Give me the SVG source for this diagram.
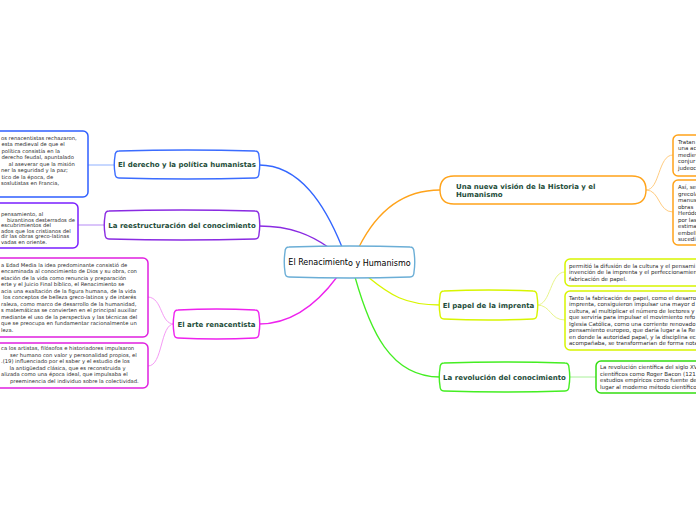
<svg xmlns="http://www.w3.org/2000/svg" width="696" height="520" viewBox="0 0 696 520">
<style>
.bg{fill:#ffffff}
.node{fill:#ffffff;stroke-width:1.4}
.lbl{font-family:"DejaVu Sans",Verdana,sans-serif;font-weight:bold;font-size:7px;fill:#1e4d3a}
.txt{font-family:"DejaVu Sans",Verdana,sans-serif;font-size:5.5px;fill:#2a2a2a}
.txl{font-family:"DejaVu Sans",Verdana,sans-serif;font-size:5.25px;fill:#2a2a2a}
.box{fill:#ffffff;stroke-width:1.5}
.con{fill:none;stroke-width:1.3}
.sub{fill:none;stroke-width:1}
</style>
<rect class="bg" x="0" y="0" width="696" height="520"/>
<g id="connectors">
  <path class="con" stroke="#3366ff" d="M259,165 C300,165 325,205 342,247"/>
  <path class="con" stroke="#8a2be2" d="M259,226 C292,226 312,236 328,247"/>
  <path class="con" stroke="#ee22ee" d="M259,324 C295,324 320,300 337,277"/>
  <path class="con" stroke="#ffa31a" d="M440,190 C400,190 375,215 359,247"/>
  <path class="con" stroke="#d8f500" d="M440,305 C405,305 390,295 368,277"/>
  <path class="con" stroke="#44ee22" d="M440,377 C390,377 370,330 355,277"/>
  <path class="sub" stroke="#8fb0ff" d="M88,165 L115,165"/>
  <path class="sub" stroke="#b58af5" d="M78,225 L105,225"/>
  <path class="sub" stroke="#f59af5" d="M174,324 C160,324 163,298 148,297"/>
  <path class="sub" stroke="#f59af5" d="M174,324 C160,324 163,366 148,366"/>
  <path class="sub" stroke="#ffcc80" d="M646,190 C660,190 658,155 673,155"/>
  <path class="sub" stroke="#ffcc80" d="M646,190 C660,190 658,212 673,212"/>
  <path class="sub" stroke="#e8f58a" d="M537,305 C551,305 550,272 565,272"/>
  <path class="sub" stroke="#e8f58a" d="M537,305 C551,305 550,320 565,320"/>
  <path class="sub" stroke="#a8f098" d="M569,377 L596,377"/>
</g>
<g id="central">
  <path class="node" stroke="#6baed6" d="M289,247 Q349.5,245 410,247 Q414,247 414,252 Q415.5,262 414,272 Q414,277 410,277 Q349.5,279 289,277 Q285,277 285,272 Q283.5,262 285,252 Q285,247 289,247 Z"/>
  <text x="349.5" y="265" text-anchor="middle" style="font-family:'DejaVu Sans',sans-serif;font-size:8px;fill:#000">El Renacimient<tspan dy="1">o y Humanismo</tspan></text>
</g>
<g id="derecho">
  <path class="node" stroke="#3b6cff" d="M119,151 Q187,149 255,151 Q259,151 259,156 Q260.5,164.5 259,173 Q259,178 255,178 Q187,180 119,178 Q115,178 115,173 Q113.5,164.5 115,156 Q115,151 119,151 Z"/>
  <text class="lbl" x="187" y="167" text-anchor="middle">El derecho y la política humanistas</text>
</g>
<g id="derecho-texto">
  <rect class="box" stroke="#2f5fff" x="-10" y="131" width="98" height="66" rx="5"/>
  <text class="txl" x="1" y="139.5">os renacentistas rechazaron,</text>
  <text class="txl" x="1.5" y="146">esta medieval de que el</text>
  <text class="txl" x="1.5" y="152.5">política consistía en la</text>
  <text class="txl" x="1.5" y="159">derecho feudal, apuntalado</text>
  <text class="txl" x="8.5" y="165.5">al aseverar que la misión</text>
  <text class="txl" x="1" y="172">ner la seguridad y la paz;</text>
  <text class="txl" x="1.5" y="178.5">tico de la época, de</text>
  <text class="txl" x="1" y="185">soslutistas en Francia,</text>
</g>
<g id="reestructuracion">
  <path class="node" stroke="#8a2be2" d="M109,211 Q182,209 255,211 Q259,211 259,216 Q260.5,225 259,234 Q259,239 255,239 Q182,241 109,239 Q105,239 105,234 Q103.5,225 105,216 Q105,211 109,211 Z"/>
  <text class="lbl" x="182" y="227.5" text-anchor="middle">La reestructuración del conocimiento</text>
</g>
<g id="reestructuracion-texto">
  <rect class="box" stroke="#7a1fff" x="-10" y="203" width="88" height="45" rx="5"/>
  <text class="txl" x="1" y="216">pensamiento, al</text>
  <text class="txl" x="7" y="221.5">bizantinos desterrados de</text>
  <text class="txl" x="1" y="227">escubrimientos del</text>
  <text class="txl" x="1" y="232.5">ados que los cristianos del</text>
  <text class="txl" x="1" y="238">dir las obras greco-latinas</text>
  <text class="txl" x="1" y="243.5">vadas en oriente.</text>
</g>
<g id="arte">
  <path class="node" stroke="#ee22ee" d="M178,310 Q216.5,308 255,310 Q259,310 259,315 Q260.5,324 259,333 Q259,338 255,338 Q216.5,340 178,338 Q174,338 174,333 Q172.5,324 174,315 Q174,310 178,310 Z"/>
  <text class="lbl" x="216.5" y="326.5" text-anchor="middle">El arte renacentista</text>
</g>
<g id="arte-texto-1">
  <rect class="box" stroke="#e020e0" x="-10" y="258" width="158" height="79" rx="5"/>
  <text class="txl" x="1" y="266.5">a Edad Media la idea predominante consistió de</text>
  <text class="txl" x="1" y="273">encaminada al conocimiento de Dios y su obra, con</text>
  <text class="txl" x="1" y="279.5">etación de la vida como renuncia y preparación</text>
  <text class="txl" x="1" y="286">erte y el Juicio Final bíblico, el Renacimiento se</text>
  <text class="txl" x="1" y="292.5">acia una exaltación de la figura humana, de la vida</text>
  <text class="txl" x="3" y="299">los conceptos de belleza greco-latinos y de interés</text>
  <text class="txl" x="1" y="305.5">raleza, como marco de desarrollo de la humanidad,</text>
  <text class="txl" x="1" y="312">s matemáticas se convierten en el principal auxiliar</text>
  <text class="txl" x="1" y="318.5">mediante el uso de la perspectiva y las técnicas del</text>
  <text class="txl" x="1" y="325">que se preocupa en fundamentar racionalmente un</text>
  <text class="txl" x="1" y="331.5">leza.</text>
</g>
<g id="arte-texto-2">
  <rect class="box" stroke="#e020e0" x="-10" y="343" width="158" height="45" rx="5"/>
  <text class="txl" x="1" y="350">ca los artistas, filósofos e historiadores impulsaron</text>
  <text class="txl" x="10" y="356.5">ser humano con valor y personalidad propios, el</text>
  <text class="txl" x="1" y="363">.(19) influenciado por el saber y el estudio de los</text>
  <text class="txl" x="9.5" y="369.5">la antigüedad clásica, que es reconstruida y</text>
  <text class="txl" x="1" y="376">alizada como una época ideal, que impulsaba el</text>
  <text class="txl" x="10" y="382.5">preeminencia del individuo sobre la colectividad.</text>
</g>
<g id="vision">
  <path class="node" stroke="#ffa31a" d="M454,176 L632,176 Q646,176 646,190 Q646,204 632,204 L454,204 Q440,204 440,190 Q440,176 454,176 Z"/>
  <text class="lbl" x="456" y="188.5">Una nueva visión de la Historia y el</text>
  <text class="lbl" x="456" y="197">Humanismo</text>
</g>
<g id="vision-texto-1">
  <rect class="box" stroke="#ffa31a" x="673" y="135" width="40" height="41" rx="5"/>
  <text class="txt" x="678" y="143.5">Tratan</text>
  <text class="txt" x="678" y="150">una ac</text>
  <text class="txt" x="678" y="156.5">mediev</text>
  <text class="txt" x="678" y="163">conjur</text>
  <text class="txt" x="678" y="169.5">judeoc</text>
</g>
<g id="vision-texto-2">
  <rect class="box" stroke="#ffa31a" x="673" y="180" width="40" height="65" rx="5"/>
  <text class="txt" x="678" y="189">Así, se</text>
  <text class="txt" x="678" y="195.5">grecola</text>
  <text class="txt" x="678" y="202">manus</text>
  <text class="txt" x="678" y="208.5">obras</text>
  <text class="txt" x="678" y="215">Heródo</text>
  <text class="txt" x="678" y="221.5">por las</text>
  <text class="txt" x="678" y="228">estima</text>
  <text class="txt" x="678" y="234.5">embell</text>
  <text class="txt" x="678" y="241">sucedi</text>
</g>
<g id="imprenta">
  <path class="node" stroke="#d8f500" d="M444,291 Q488.5,289 533,291 Q537,291 537,296 Q538.5,305 537,314 Q537,319 533,319 Q488.5,321 444,319 Q440,319 440,314 Q438.5,305 440,296 Q440,291 444,291 Z"/>
  <text class="lbl" x="488.5" y="307.5" text-anchor="middle">El papel de la imprenta</text>
</g>
<g id="imprenta-texto-1">
  <rect class="box" stroke="#d8f500" x="565" y="259" width="150" height="27" rx="5"/>
  <text class="txt" x="569" y="267.5">permitió la difusión de la cultura y el pensami</text>
  <text class="txt" x="569" y="274">invención de la imprenta y el perfeccionamien</text>
  <text class="txt" x="569" y="280.5">fabricación de papel.</text>
</g>
<g id="imprenta-texto-2">
  <rect class="box" stroke="#d8f500" x="565" y="291" width="150" height="59" rx="5"/>
  <text class="txt" x="569" y="299.5">Tanto la fabricación de papel, como el desarro</text>
  <text class="txt" x="569" y="306">imprenta, consiguieron impulsar una mayor d</text>
  <text class="txt" x="569" y="312.5">cultura, al multiplicar el número de lectores y</text>
  <text class="txt" x="569" y="319">que serviría para impulsar el movimiento refo</text>
  <text class="txt" x="569" y="325.5">Iglesia Católica, como una corriente renovado</text>
  <text class="txt" x="569" y="332">pensamiento europeo, que daría lugar a la Re</text>
  <text class="txt" x="569" y="338.5">en donde la autoridad papal, y la disciplina ec</text>
  <text class="txt" x="569" y="345">acompañaba, se transformarían de forma nota</text>
</g>
<g id="revolucion">
  <path class="node" stroke="#44ee22" d="M444,363 Q504.5,361 565,363 Q569,363 569,368 Q570.5,377 569,386 Q569,391 565,391 Q504.5,393 444,391 Q440,391 440,386 Q438.5,377 440,368 Q440,363 444,363 Z"/>
  <text class="lbl" x="504.5" y="379.5" text-anchor="middle">La revolución del conocimiento</text>
</g>
<g id="revolucion-texto">
  <rect class="box" stroke="#33dd11" x="596" y="361" width="120" height="32" rx="5"/>
  <text class="txt" x="600" y="369">La revolución científica del siglo XV</text>
  <text class="txt" x="600" y="375.5">científicos como Roger Bacon (121</text>
  <text class="txt" x="600" y="382">estudios empíricos como fuente de</text>
  <text class="txt" x="600" y="388.5">lugar al moderno método científico</text>
</g>
</svg>
